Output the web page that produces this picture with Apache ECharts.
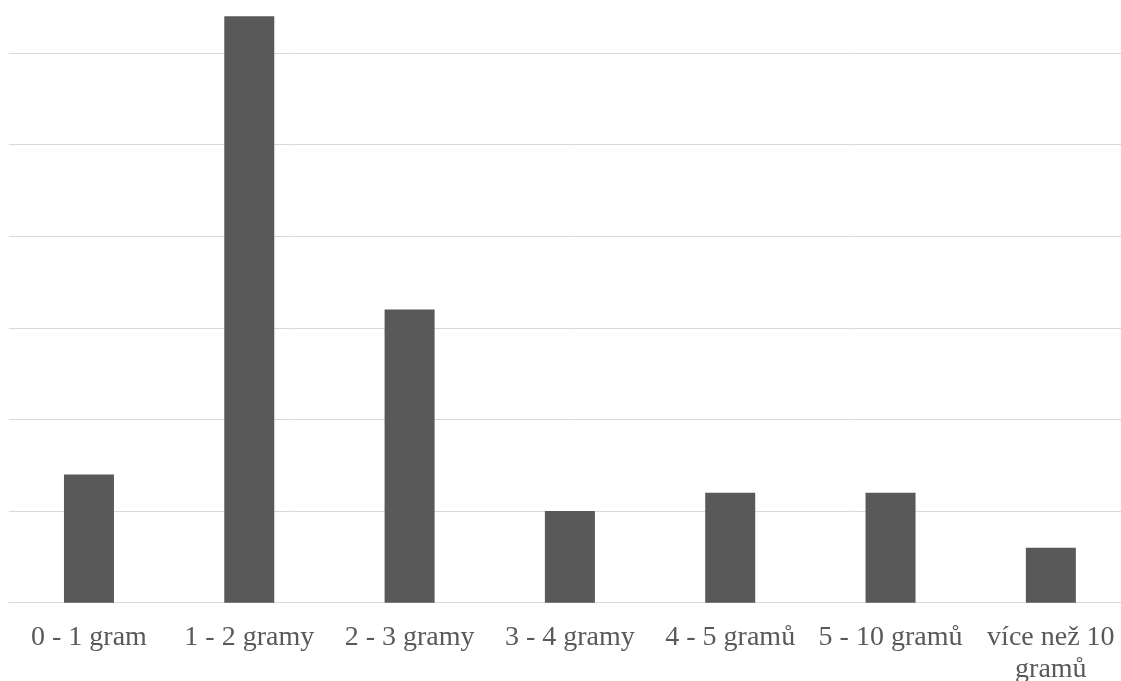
<!DOCTYPE html>
<html>
<head>
<meta charset="utf-8">
<script src="https://cdn.jsdelivr.net/npm/echarts@6/dist/echarts.min.js"></script>
<style>
html,body{margin:0;padding:0;background:#fff;overflow:hidden;}
#chart{width:1131px;height:720px;margin-top:-39px;}
</style>
</head>
<body>
<div id="chart"></div>
<script>
const categories = ['0 - 1 gram', '1 - 2 gramy', '2 - 3 gramy', '3 - 4 gramy', '4 - 5 gramů', '5 - 10 gramů', 'více než 10 gramů'];
const values = [7, 32, 16, 5, 6, 6, 3];

const chart = echarts.init(document.getElementById('chart'));
chart.setOption({
  animation: false,
  grid: { left: 8.8, right: 0, top: 0.3, bottom: 78.3, containLabel: false, outerBoundsMode: 'none' },
  xAxis: {
    type: 'category',
    data: categories,
    axisLine: { show: true, lineStyle: { color: '#d9d9d9', width: 1 } },
    axisTick: { show: false },
    axisLabel: {
      interval: 0,
      margin: 19,
      color: '#595959',
      fontFamily: 'Liberation Serif',
      fontSize: 28,
      lineHeight: 32,
      formatter: function (v) { return v.length > 14 ? v.replace(/ (\S+)$/, '\n$1') : v; }
    }
  },
  yAxis: {
    type: 'value',
    min: 0,
    max: 35,
    interval: 5,
    axisLine: { show: false },
    axisTick: { show: false },
    axisLabel: { show: false },
    splitLine: { lineStyle: { color: '#d9d9d9', width: 1 } }
  },
  series: [{
    type: 'bar',
    data: values,
    barWidth: 50,
    itemStyle: { color: '#595959' }
  }]
});
</script>
</body>
</html>
